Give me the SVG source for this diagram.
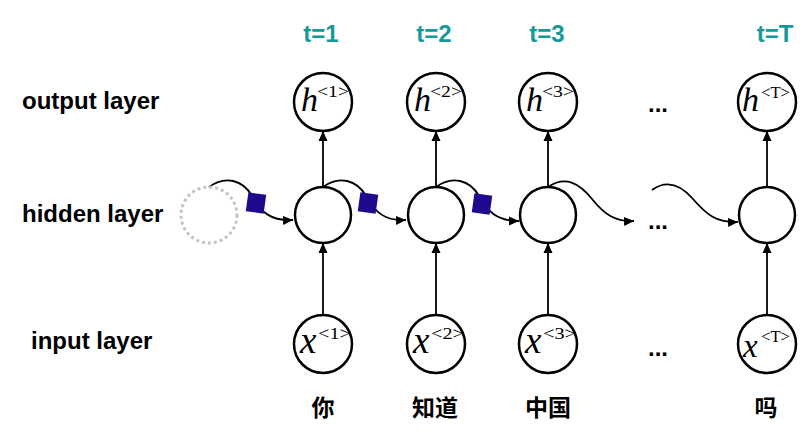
<svg xmlns="http://www.w3.org/2000/svg" width="808" height="436" viewBox="0 0 808 436">
<defs>
<style>
.node{fill:#fff;stroke:#000;stroke-width:2.5}
.ghost{fill:none;stroke:#c4c4c4;stroke-width:3;stroke-dasharray:3 3}
.edge{fill:none;stroke:#000;stroke-width:1.8}
.lbl{font-family:"Liberation Sans",Arial,sans-serif;font-weight:bold;font-size:24px;fill:#000}
.t{font-family:"Liberation Sans",Arial,sans-serif;font-weight:bold;font-size:24px;fill:#16999a;text-anchor:middle}
.zh{font-family:"Liberation Sans","Noto Sans CJK SC",sans-serif;font-weight:bold;font-size:23px;fill:#000;text-anchor:middle}
.v{font-family:"Liberation Serif","Times New Roman",serif;font-style:italic;fill:#000}
.sup{font-family:"Liberation Serif","Times New Roman",serif;fill:#000}
.sq{fill:#1d0a8f}
</style>
<marker id="arr" viewBox="0 0 10 10" refX="10" refY="5" markerWidth="10" markerHeight="10" markerUnits="userSpaceOnUse" orient="auto">
<path d="M0,0.5 L10,5 L0,9.5 z" fill="#000"/>
</marker>
</defs>
<rect width="808" height="436" fill="#fff"/>

<g id="layer-labels">
<text class="lbl" x="22" y="109">output layer</text>
<text class="lbl" x="22" y="222">hidden layer</text>
<text class="lbl" x="31" y="349">input layer</text>
</g>

<g id="time-labels">
<text class="t" x="321" y="42">t=1</text>
<text class="t" x="434" y="42">t=2</text>
<text class="t" x="547" y="42">t=3</text>
<text class="t" x="775" y="42">t=T</text>
</g>

<g id="connectors">
<path class="edge" d="M209,187 C225,175 243,180 252,196 S270,221 293,220" marker-end="url(#arr)"/>
<path class="edge" d="M323,187 C339,175 357,180 366,196 S384,221 406,220" marker-end="url(#arr)"/>
<path class="edge" d="M436,187 C452,175 470,180 479,196 S497,221 519,221" marker-end="url(#arr)"/>
<path class="edge" d="M548,187 C566,175 580,184 592,199 S615,222 634,221" marker-end="url(#arr)"/>
<path class="edge" d="M652,190 C666,180 680,184 693,199 S716,223 738,222" marker-end="url(#arr)"/>
<path class="edge" d="M323,187 L323,131" marker-end="url(#arr)"/>
<path class="edge" d="M436,187 L436,131" marker-end="url(#arr)"/>
<path class="edge" d="M548,187 L548,131" marker-end="url(#arr)"/>
<path class="edge" d="M767,187 L767,131" marker-end="url(#arr)"/>
<path class="edge" d="M323,315 L323,243" marker-end="url(#arr)"/>
<path class="edge" d="M436,315 L436,243" marker-end="url(#arr)"/>
<path class="edge" d="M548,315 L548,243" marker-end="url(#arr)"/>
<path class="edge" d="M767,315 L767,243" marker-end="url(#arr)"/>
<rect class="sq" x="-9" y="-9.5" width="18" height="19" transform="translate(256,203) rotate(8)"/>
<rect class="sq" x="-9" y="-9.5" width="18" height="19" transform="translate(368,203) rotate(8)"/>
<rect class="sq" x="-9" y="-9.5" width="18" height="19" transform="translate(482,204) rotate(8)"/>
</g>

<g id="h0-ghost"><circle class="ghost" cx="209" cy="215" r="28"/></g>

<g id="h1"><circle class="node" cx="323" cy="102" r="29"/>
<text class="v" x="301" y="111" font-size="34">h</text>
<text class="sup" x="317" y="97" font-size="16" textLength="32" lengthAdjust="spacingAndGlyphs">&lt;1&gt;</text></g>
<g id="h2"><circle class="node" cx="436" cy="102" r="29"/>
<text class="v" x="414" y="111" font-size="34">h</text>
<text class="sup" x="430" y="97" font-size="16" textLength="32" lengthAdjust="spacingAndGlyphs">&lt;2&gt;</text></g>
<g id="h3"><circle class="node" cx="548" cy="102" r="29"/>
<text class="v" x="526" y="111" font-size="34">h</text>
<text class="sup" x="542" y="97" font-size="16" textLength="32" lengthAdjust="spacingAndGlyphs">&lt;3&gt;</text></g>
<g id="hT"><circle class="node" cx="767" cy="102" r="29"/>
<text class="v" x="742" y="111" font-size="34">h</text>
<text class="sup" x="761" y="98" font-size="16" textLength="29" lengthAdjust="spacingAndGlyphs">&lt;T&gt;</text></g>

<g id="s1"><circle class="node" cx="323" cy="215" r="28"/></g>
<g id="s2"><circle class="node" cx="436" cy="215" r="28"/></g>
<g id="s3"><circle class="node" cx="548" cy="215" r="28"/></g>
<g id="sT"><circle class="node" cx="767" cy="215" r="28"/></g>

<g id="x1"><circle class="node" cx="323" cy="344" r="29"/>
<text class="v" x="300" y="353" font-size="37">x</text>
<text class="sup" x="318" y="339" font-size="16" textLength="33" lengthAdjust="spacingAndGlyphs">&lt;1&gt;</text></g>
<g id="x2"><circle class="node" cx="436" cy="344" r="29"/>
<text class="v" x="413" y="353" font-size="37">x</text>
<text class="sup" x="431" y="339" font-size="16" textLength="33" lengthAdjust="spacingAndGlyphs">&lt;2&gt;</text></g>
<g id="x3"><circle class="node" cx="548" cy="344" r="29"/>
<text class="v" x="525" y="353" font-size="37">x</text>
<text class="sup" x="543" y="339" font-size="16" textLength="33" lengthAdjust="spacingAndGlyphs">&lt;3&gt;</text></g>
<g id="xT"><circle class="node" cx="767" cy="344" r="29"/>
<text class="v" x="743" y="357" font-size="33">x</text>
<text class="sup" x="761" y="342" font-size="16" textLength="29" lengthAdjust="spacingAndGlyphs">&lt;T&gt;</text></g>

<g id="ellipses">
<text class="lbl" x="648" y="112">...</text>
<text class="lbl" x="648" y="229">...</text>
<text class="lbl" x="648" y="356">...</text>
</g>

<g id="words">
<text class="zh" x="323" y="416">你</text>
<text class="zh" x="435" y="416">知道</text>
<text class="zh" x="548" y="416">中国</text>
<text class="zh" x="766" y="416">吗</text>
</g>
</svg>
